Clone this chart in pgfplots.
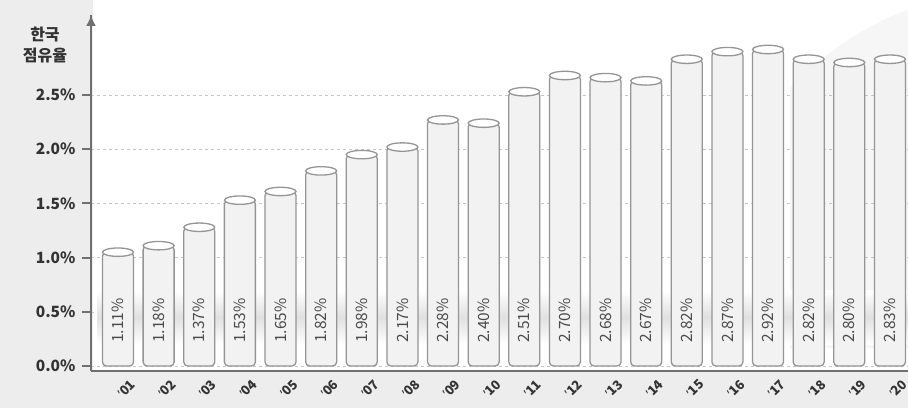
\documentclass[border=0pt]{standalone}
\usepackage{pgfplots}
\pgfplotsset{compat=1.18}
\usepackage{pgfplotstable}
\usepackage{fontspec}
\setmainfont{Noto Sans CJK KR}
\newfontfamily\latinfont{Noto Sans}
\newcommand{\ap}{{\latinfont\char"2019}}
\usetikzlibrary{arrows.meta}
\definecolor{txt}{HTML}{333333}
\definecolor{lab}{HTML}{4A4A4A}
\definecolor{bgray}{HTML}{EDEDED}
\definecolor{barfill}{HTML}{F2F2F2}
\definecolor{barline}{HTML}{959595}
\definecolor{axline}{HTML}{707070}

\pgfplotstableread{
x h v
0 1.05 1.11
1 1.11 1.18
2 1.28 1.37
3 1.53 1.53
4 1.61 1.65
5 1.80 1.82
6 1.95 1.98
7 2.02 2.17
8 2.27 2.28
9 2.24 2.40
10 2.53 2.51
11 2.68 2.70
12 2.66 2.68
13 2.63 2.67
14 2.83 2.82
15 2.90 2.87
16 2.92 2.92
17 2.83 2.82
18 2.80 2.80
19 2.83 2.83
}\share

\pgfdeclareplotmark{cyltop}{%
  \pgfpathellipse{\pgfpointorigin}{\pgfqpoint{15.5pt}{0pt}}{\pgfqpoint{0pt}{4.2pt}}%
  \pgfusepathqfillstroke}

\begin{document}
\begin{tikzpicture}[x=1pt,y=1pt]
\useasboundingbox (0,0) rectangle (908,408);
\fill[bgray] (0,0) rectangle (908,408);
\fill[white] (92.5,37) rectangle (908,408);
\fill[gray!7] (790,320) .. controls (830,360) and (870,385) .. (908,398) -- (908,60) -- (790,60) -- cycle;
\begin{axis}[
  at={(91pt,37pt)}, anchor=south west,
  scale only axis, width=817pt, height=356pt,
  xmin=-0.665, xmax=19.445,
  ymin=-0.046, ymax=3.238,
  axis lines=left,
  axis line style={line width=2.8pt, draw=axline},
  every outer x axis line/.append style={-, line width=2.8pt, draw=axline},
  every outer y axis line/.append style={-, line width=2.8pt, draw=axline},
  xtick={0,...,19},
  xticklabels={\ap01,\ap02,\ap03,\ap04,\ap05,\ap06,\ap07,\ap08,\ap09,\ap10,\ap11,\ap12,\ap13,\ap14,\ap15,\ap16,\ap17,\ap18,\ap19,\ap20},
  xtick style={draw=none},
  xticklabel style={rotate=45, anchor=center, yshift=-12pt, font=\bfseries\fontsize{13}{13}\selectfont, text=txt},
  ytick={0,0.5,1,1.5,2,2.5},
  yticklabel={\pgfmathprintnumber[fixed,fixed zerofill,precision=1]{\tick}\%},
  /pgf/number format/assume math mode=true,
  yticklabel style={font=\bfseries\fontsize{15.5}{15.5}\selectfont, text=txt, xshift=-3pt},
  ytick style={draw=axline, line width=2pt},
  tick align=outside,
  major tick length=9pt,
  ymajorgrids,
  grid style={dashed, gray!45, line width=0.6pt},
  clip=false,
]
% floor shadow
\shade[top color=white, bottom color=gray!24] (axis cs:-0.5,0.45) rectangle (axis cs:19.445,0.70);
\shade[top color=gray!24, bottom color=white] (axis cs:-0.5,0.20) rectangle (axis cs:19.445,0.45);
% y axis line with arrow
\draw[axline, line width=2.8pt, -{Latex[length=11pt,width=10pt]}] (rel axis cs:0,0) -- (rel axis cs:0,1);
% cylinder bodies
\addplot[ybar, bar shift=0pt, bar width=31pt, fill=barfill, draw=barline, line width=1.3pt, rounded corners=4pt]
  table[x=x, y=h] {\share};
% top caps
\addplot[only marks, mark=cyltop, mark options={fill=white, draw=barline, line width=1.3pt}]
  table[x=x, y=h] {\share};
% value labels
\addplot[draw=none, mark=none,
  nodes near coords={\pgfmathprintnumber[fixed,fixed zerofill,precision=2]{\pgfplotspointmeta}\%},
  point meta=\thisrow{v},
  every node near coord/.append style={rotate=90, anchor=center, font=\fontsize{15.5}{15.5}\selectfont, text=lab}]
  table[x=x, y expr=0.42] {\share};
\end{axis}
\node[align=center, font=\bfseries\fontsize{16}{21}\selectfont, text=txt] at (45,363) {한국\\점유율};
\end{tikzpicture}
\end{document}
